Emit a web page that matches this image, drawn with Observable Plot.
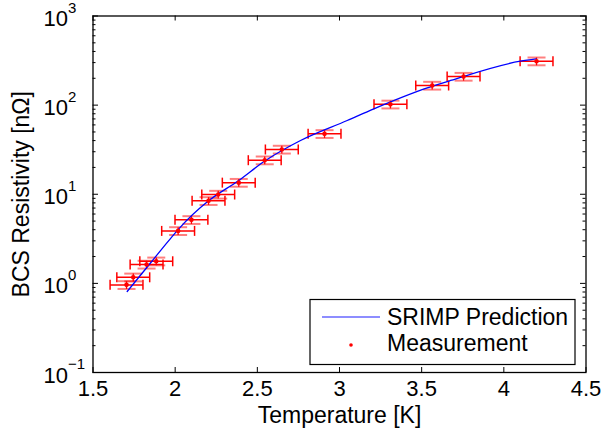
<!DOCTYPE html>
<html><head><meta charset="utf-8">
<script src="https://cdn.jsdelivr.net/npm/d3@7"></script>
<script src="https://cdn.jsdelivr.net/npm/@observablehq/plot@0.6"></script>
<style>body{margin:0;background:#fff} #chart{width:603px;height:436px}</style>
</head><body><div id="chart"></div>
<script>
// Measurement values (Temperature [K], BCS resistivity [nΩ])
const measT = [1.704, 1.745, 1.826, 1.885, 2.018, 2.099, 2.203, 2.262, 2.387, 2.545, 2.649, 2.909, 3.310, 3.564, 3.755, 4.199];
const measR = [0.962, 1.17, 1.63, 1.77, 3.88, 5.16, 8.43, 9.93, 13.5, 24.1, 31.8, 47.6, 102, 166, 209, 311];
const measTErr = [0.1, 0.1, 0.1, 0.1, 0.1, 0.1, 0.1, 0.1, 0.1, 0.1, 0.1, 0.1, 0.1, 0.1, 0.1, 0.1];
const measRRelErr = [0.1, 0.1, 0.1, 0.1, 0.1, 0.1, 0.1, 0.1, 0.1, 0.1, 0.1, 0.1, 0.1, 0.1, 0.1, 0.1];
// SRIMP prediction curve
const predT = [1.708, 1.846, 1.961, 2.022, 2.205, 2.387, 2.550, 2.763, 3.047, 3.209, 3.534, 3.676, 4.101, 4.197];
const predR = [0.81, 1.66, 3.02, 4.09, 8.49, 14.3, 23.9, 40.1, 67.2, 90.8, 156, 189, 311, 330];
// Axis ticks
const xTicks = [1.5, 2, 2.5, 3, 3.5, 4, 4.5];
const xTickLabels = ["1.5", "2", "2.5", "3", "3.5", "4", "4.5"];
const yTicks = [0.1, 1, 10, 100, 1000];
const yTickExponents = ["\u22121", "0", "1", "2", "3"];
const legendLabels = ["SRIMP Prediction", "Measurement"];
const xLabel = "Temperature [K]";
const yLabel = "BCS Resistivity [n\u03A9]";

const W = 603, H = 436, mL = 92.5, mR = 17.5, mT = 15.5, mB = 64;
const pw = W - mL - mR, ph = H - mT - mB;
const FONT = "'Liberation Sans', Arial, Helvetica, sans-serif";

const meas = measT.map((t, i) => ({t, r: measR[i], te: measTErr[i], re: measRRelErr[i]}));
const pred = predT.map((t, i) => ({t, r: predR[i]}));
const minorY = d3.scaleLog().domain([0.1, 1000]).ticks()
  .filter(v => Math.abs(Math.log10(v) - Math.round(Math.log10(v))) > 1e-6);

const vline = {draw(ctx, size) { const r = Math.sqrt(size / Math.PI); ctx.moveTo(0, -r); ctx.lineTo(0, r); }};
const hline = {draw(ctx, size) { const r = Math.sqrt(size / Math.PI); ctx.moveTo(-r, 0); ctx.lineTo(r, 0); }};

const RED = "#ff0000";
const chart = Plot.plot({
  width: W, height: H,
  marginLeft: mL, marginRight: mR, marginTop: mT, marginBottom: mB,
  style: {fontFamily: FONT, background: "white", color: "black"},
  x: {domain: [1.5, 4.5], axis: null},
  y: {type: "log", domain: [0.1, 1000], axis: null},
  marks: [
    // y error bars (caps rendered lighter)
    Plot.link(meas, {x1: "t", x2: "t", y1: d => d.r * (1 - d.re), y2: d => d.r * (1 + d.re), stroke: RED, strokeWidth: 1.3}),
    Plot.dot(meas, {x: "t", y: d => d.r * (1 + d.re), symbol: hline, r: 9, stroke: RED, strokeOpacity: 0.5, strokeWidth: 2}),
    Plot.dot(meas, {x: "t", y: d => d.r * (1 - d.re), symbol: hline, r: 9, stroke: RED, strokeOpacity: 0.5, strokeWidth: 2}),
    // x error bars
    Plot.link(meas, {x1: d => d.t - d.te, x2: d => d.t + d.te, y1: "r", y2: "r", stroke: RED, strokeWidth: 1.5}),
    Plot.dot(meas, {x: d => d.t - d.te, y: "r", symbol: vline, r: 5, stroke: RED, strokeWidth: 1.5}),
    Plot.dot(meas, {x: d => d.t + d.te, y: "r", symbol: vline, r: 5, stroke: RED, strokeWidth: 1.5}),
    // prediction line
    Plot.line(pred, {x: "t", y: "r", stroke: "#0000ff", strokeWidth: 1.3, curve: "monotone-x"}),
    // measurement points
    Plot.dot(meas, {x: "t", y: "r", r: 2.3, fill: RED}),
    // frame & inside ticks
    Plot.frame({stroke: "black", strokeWidth: 1.3}),
    Plot.tickX(xTicks, {x: d => d, insetTop: ph - 5, stroke: "black"}),
    Plot.tickX(xTicks, {x: d => d, insetBottom: ph - 5, stroke: "black"}),
    Plot.tickY(yTicks, {y: d => d, insetRight: pw - 5.5, stroke: "black"}),
    Plot.tickY(yTicks, {y: d => d, insetLeft: pw - 5.5, stroke: "black"}),
    Plot.tickY(minorY, {y: d => d, insetRight: pw - 3, stroke: "black"}),
    Plot.tickY(minorY, {y: d => d, insetLeft: pw - 3, stroke: "black"}),
    // tick labels
    Plot.text(xTicks, {x: d => d, frameAnchor: "bottom", dy: 23, textAnchor: "middle", text: (d, i) => xTickLabels[i], fontSize: 22}),
    Plot.text(yTicks, {y: d => d, frameAnchor: "left", dx: -49.5, dy: 3, textAnchor: "start", text: () => "10", fontSize: 22}),
    Plot.text(yTicks, {y: d => d, frameAnchor: "left", dx: -25, dy: -8, textAnchor: "start", text: (d, i) => yTickExponents[i], fontSize: 15}),
    // axis labels
    Plot.text([xLabel], {frameAnchor: "bottom", dy: 50, textAnchor: "middle", text: d => d, fontSize: 23}),
    Plot.text([yLabel], {frameAnchor: "left", dx: -71.5, rotate: -90, textAnchor: "middle", text: d => d, fontSize: 23})
  ]
});
document.getElementById("chart").appendChild(chart);

// Legend inside the axes (lower right)
const svg = d3.select(chart);
const lg = svg.append("g").attr("font-family", FONT).attr("font-size", 23).attr("text-anchor", "start");
lg.append("rect").attr("x", 310).attr("y", 299.5).attr("width", 265).attr("height", 65)
  .attr("fill", "white").attr("stroke", "black").attr("stroke-width", 1.2);
lg.append("line").attr("x1", 322).attr("x2", 380).attr("y1", 317).attr("y2", 317)
  .attr("stroke", "#0000ff").attr("stroke-opacity", 0.6).attr("stroke-width", 1.5);
lg.append("text").attr("x", 387).attr("y", 317).attr("dy", "0.35em").attr("text-anchor", "start").attr("fill", "black").text(legendLabels[0]);
lg.append("circle").attr("cx", 351).attr("cy", 345).attr("r", 1.8).attr("fill", RED);
lg.append("text").attr("x", 387).attr("y", 343).attr("dy", "0.35em").attr("text-anchor", "start").attr("fill", "black").text(legendLabels[1]);
</script>
</body></html>
